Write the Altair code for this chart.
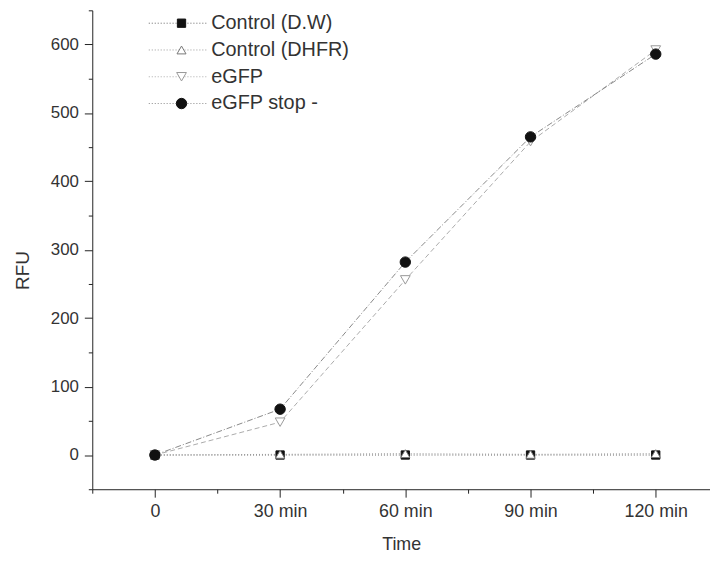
import altair as alt
import pandas as pd

# ---- data ----
times = [0, 30, 60, 90, 120]
series_names = ["Control (D.W)", "Control (DHFR)", "eGFP", "eGFP stop -"]
control_dw = [0, 0, 0, 0, 0]
control_dhfr = [0, 1, 2, 1, 2]
egfp = [0, 48, 256, 458, 592]
egfp_stop = [0, 67, 282, 465, 586]
x_tick_values = [-15, 0, 15, 30, 45, 60, 75, 90, 105, 120]
y_tick_values = list(range(-50, 651, 50))

all_values = [control_dw, control_dhfr, egfp, egfp_stop]
rows = []
for i, (name, vals) in enumerate(zip(series_names, all_values)):
    for t, v in zip(times, vals):
        rows.append({"series": name, "order": i, "time": t, "rfu": v})
df = pd.DataFrame(rows)
legend_df = pd.DataFrame({"series": series_names})

FONT = "Liberation Sans"
TXT = "#333333"

shape_scale = alt.Scale(domain=series_names, range=["square", "triangle-up", "triangle-down", "circle"])
fill_scale = alt.Scale(domain=series_names, range=["#111111", "#ffffff", "#ffffff", "#111111"])
stroke_scale = alt.Scale(domain=series_names, range=["#111111", "#777777", "#999999", "#111111"])
size_scale = alt.Scale(domain=series_names, range=[70, 110, 110, 140])
line_scale = alt.Scale(domain=series_names, range=["#666666", "#999999", "#aaaaaa", "#888888"])
dash_scale = alt.Scale(domain=series_names, range=[[1, 2], [1, 2], [5, 3], [6, 2, 1, 2]])

x_enc = alt.X(
    "time:Q",
    scale=alt.Scale(domain=[-15, 133], nice=False, zero=False),
    axis=alt.Axis(
        values=x_tick_values,
        labelExpr="datum.value === 0 ? '0' : ((datum.value % 30 === 0 && datum.value > 0) ? datum.value + ' min' : '')",
        tickSize={"condition": {"test": "datum.value % 30 === 0", "value": 8}, "value": 4},
        grid=False,
        title="Time",
        labelOverlap=False,
        labelFlush=False,
        labelPadding=6,
        titlePadding=15,
        labelFontSize=18,
        titleFontSize=18,
        titleFontWeight="normal",
    ),
)
y_enc = alt.Y(
    "rfu:Q",
    scale=alt.Scale(domain=[-50, 650], nice=False, zero=False),
    axis=alt.Axis(
        values=y_tick_values,
        labelExpr="(datum.value % 100 === 0 && datum.value >= 0 && datum.value <= 600) ? datum.label : ''",
        tickSize={"condition": {"test": "datum.value % 100 === 0", "value": 8}, "value": 4},
        grid=False,
        title="RFU",
        titleY=262,
        labelOverlap=False,
        labelFlush=False,
        labelPadding=6,
        titlePadding=18,
        labelFontSize=17,
        titleFontSize=19,
        titleFontWeight="normal",
    ),
)

lines = alt.Chart(df).mark_line(strokeWidth=1).encode(
    x=x_enc,
    y=y_enc,
    detail="series:N",
    color=alt.Color("series:N", scale=line_scale, legend=None),
    strokeDash=alt.StrokeDash("series:N", scale=dash_scale, legend=None),
    order="time:Q",
)

points = alt.Chart(df).mark_point(filled=False, opacity=1, strokeWidth=1).encode(
    x=x_enc,
    y=y_enc,
    shape=alt.Shape("series:N", scale=shape_scale, legend=None),
    fill=alt.Fill("series:N", scale=fill_scale, legend=None),
    stroke=alt.Stroke("series:N", scale=stroke_scale, legend=None),
    size=alt.Size("series:N", scale=size_scale, legend=None),
    order="order:Q",
)

data_layer = alt.layer(lines, points)

legend_y = alt.Y(
    "series:N",
    scale=alt.Scale(type="point", domain=series_names, range=[13, 94], padding=0),
    axis=None,
)
leg_lines = alt.Chart(legend_df).mark_rule(strokeWidth=1, strokeDash=[1, 2]).encode(
    x=alt.value(57),
    x2=alt.value(117),
    y=legend_y,
    color=alt.Color("series:N", scale=line_scale, legend=None),
)
leg_points = alt.Chart(legend_df).mark_point(filled=False, opacity=1, strokeWidth=1).encode(
    x=alt.value(90),
    y=legend_y,
    shape=alt.Shape("series:N", scale=shape_scale, legend=None),
    fill=alt.Fill("series:N", scale=fill_scale, legend=None),
    stroke=alt.Stroke("series:N", scale=stroke_scale, legend=None),
    size=alt.Size("series:N", scale=size_scale, legend=None),
)
leg_text = alt.Chart(legend_df).mark_text(
    align="left", baseline="middle", fontSize=20, font=FONT, color=TXT
).encode(
    x=alt.value(120),
    y=legend_y,
    text="series:N",
)

legend = alt.layer(leg_lines, leg_points, leg_text)

chart = (
    alt.layer(data_layer, legend)
    .resolve_scale(y="independent")
    .properties(
        width=623,
        height=483,
        padding={"left": 85, "top": 0, "right": 0, "bottom": 64},
        autosize=alt.AutoSizeParams(type="none"),
    )
    .configure_view(stroke=None)
    .configure_axis(
        labelFont=FONT,
        titleFont=FONT,
        labelColor=TXT,
        titleColor=TXT,
        domainColor="#222222",
        tickColor="#222222",
        domainWidth=1,
        tickWidth=1,
    )
)

chart.save("out.html", embed_options={"renderer": "svg", "actions": False})
